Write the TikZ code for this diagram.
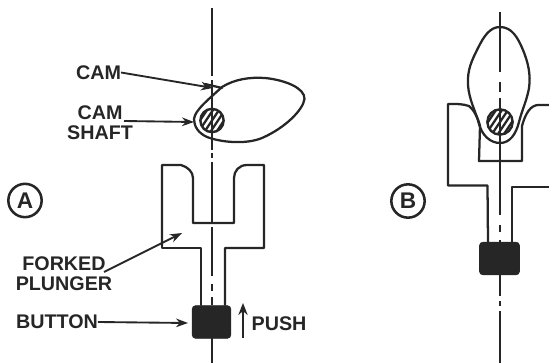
\documentclass[tikz,border=0pt]{standalone}
\usepackage{fontspec}
\setmainfont{Liberation Sans}
\usetikzlibrary{arrows.meta,calc}
\definecolor{ink}{HTML}{262626}
\tikzset{
  lbl/.style={font=\fontsize{14.8}{14.8}\selectfont\bfseries, text=ink, inner sep=0pt, outer sep=0pt, align=center},
  lineart/.style={draw=ink, line width=1.7pt, line join=round, line cap=round},
  center line/.style={draw=ink, line width=1.5pt},
  leader/.style={draw=ink, line width=1.4pt, -{Stealth[length=9pt,width=6.5pt]}},
  buttonbox/.style={fill=ink, draw=ink, rounded corners=2.5pt, inner sep=0pt},
  shaftcirc/.style={circle, draw=ink, line width=1.8pt, minimum size=17.5pt, inner sep=0pt},
  letter/.style={circle, draw=ink, line width=1.9pt, minimum size=25pt, inner sep=0pt, text=ink, font=\fontsize{17}{17}\selectfont\bfseries},
}
\begin{document}
\begin{tikzpicture}[x=0.75pt,y=-0.75pt]
\useasboundingbox (0,0) rectangle (549,363);
% --- A ---
\foreach \a/\b in {8/76,80/150,153/158,162/222,227/276,284/291,297/305,338/363}
  \draw[center line] (212,\a) -- (212,\b);
\draw[lineart] (222,87) .. controls (235,79) and (250,77) .. (265,78)
  .. controls (285,80) and (305,88) .. (304.5,99)
  .. controls (303,110) and (285,128) .. (262,138)
  .. controls (245,145) and (220,142) .. (207,137)
  .. controls (198,133) and (194,126) .. (194,119)
  .. controls (195,110) and (208,100) .. (222,87);
\draw[lineart] (205,84) -- (222,88);
\node[shaftcirc] (shaftA) at (212,120.5) {};
\begin{scope}
\clip (212,120.5) circle (11);
\foreach \d in {-12,-6,0,6,12}
  \draw[draw=ink,line width=1.7pt] ($(212,120.5)+(\d-8,12)$) -- ($(212,120.5)+(\d+8,-12)$);
\end{scope}
\draw[lineart] (162,246) -- (162,165) -- (181,165) .. controls (188,167) and (193,172) .. (193,178)
  -- (193,223) -- (234,223) -- (234,178) .. controls (234,171) and (239,165) .. (247,165)
  -- (264,165) -- (264,248) -- (225,248) -- (225,305);
\draw[lineart] (162,246) -- (162,248) -- (201,248) -- (201,305);
\node[buttonbox, minimum width=29pt, minimum height=24.5pt] (buttonA) at (211.5,322) {};
\node[lbl] (cam) at (98.5,72.5) {CAM};
\node[lbl,text width=70pt] (shaft) at (100,122.5) {CAM\\[0.4pt]SHAFT};
\node[lbl,text width=70pt] (forked) at (64,274) {\makebox[0pt]{FORKED}\\[0.4pt]\makebox[0pt]{PLUNGER}};
\node[lbl] (button) at (57,322) {BUTTON};
\node[lbl] (push) at (279,324) {PUSH};
\node[letter] (A) at (25,200.5) {A};
\coordinate (camtip) at (213,88);
\coordinate (shafttip) at (194,122);
\coordinate (forktip) at (182,233);
\coordinate (buttontip) at (188,323);
\draw[leader] (cam.east) -- (camtip);
\draw[leader] (124,121) -- (shafttip);
\draw[leader] (104,272) -- (forktip);
\draw[leader] (button.east) -- (buttontip);
\coordinate (pa) at (243,338);
\coordinate (pb) at (243,303);
\draw[draw=ink,line width=2.2pt,-{Stealth[length=9pt,width=7pt]}] (pa) -- (pb);
% --- B ---
\foreach \a/\b in {12/72,82/92,98/215,225/232,240/242,275/296,301/306,311/363}
  \draw[center line] (500,\a) -- (500,\b);
\draw[lineart] (500,27) .. controls (512,27) and (518,38) .. (523,50)
  .. controls (528,62) and (531,75) .. (529,88)
  .. controls (527,100) and (522,110) .. (519,122)
  .. controls (516,134) and (510,143) .. (500,143)
  .. controls (490,143) and (482,135) .. (479,124)
  .. controls (476,112) and (469,100) .. (468,85)
  .. controls (467,70) and (472,60) .. (478,48)
  .. controls (484,36) and (490,27) .. (500,27);
\node[shaftcirc, minimum size=19pt] (shaftB) at (500,122) {};
\begin{scope}
\clip (500,122) circle (12);
\foreach \d in {-12,-6,0,6,12}
  \draw[draw=ink,line width=1.7pt] ($(500,122)+(\d-8,12)$) -- ($(500,122)+(\d+8,-12)$);
\end{scope}
\draw[lineart] (469,106) .. controls (462,104) and (460,104) .. (448,104) -- (448,185.5) -- (487.5,185.5) -- (488,242);
\draw[lineart] (469,106) .. controls (474,110) and (478,118) .. (480,126) -- (479,161) -- (522,161) -- (522,126)
  .. controls (525,115) and (530,104) .. (540,105) -- (549,105);
\draw[lineart] (549,187) -- (512,187) -- (512,242);
\node[buttonbox, minimum width=30pt, minimum height=24.5pt] (buttonB) at (499.5,258.5) {};
\node[letter] (B) at (408,201) {B};
\end{tikzpicture}
\end{document}
